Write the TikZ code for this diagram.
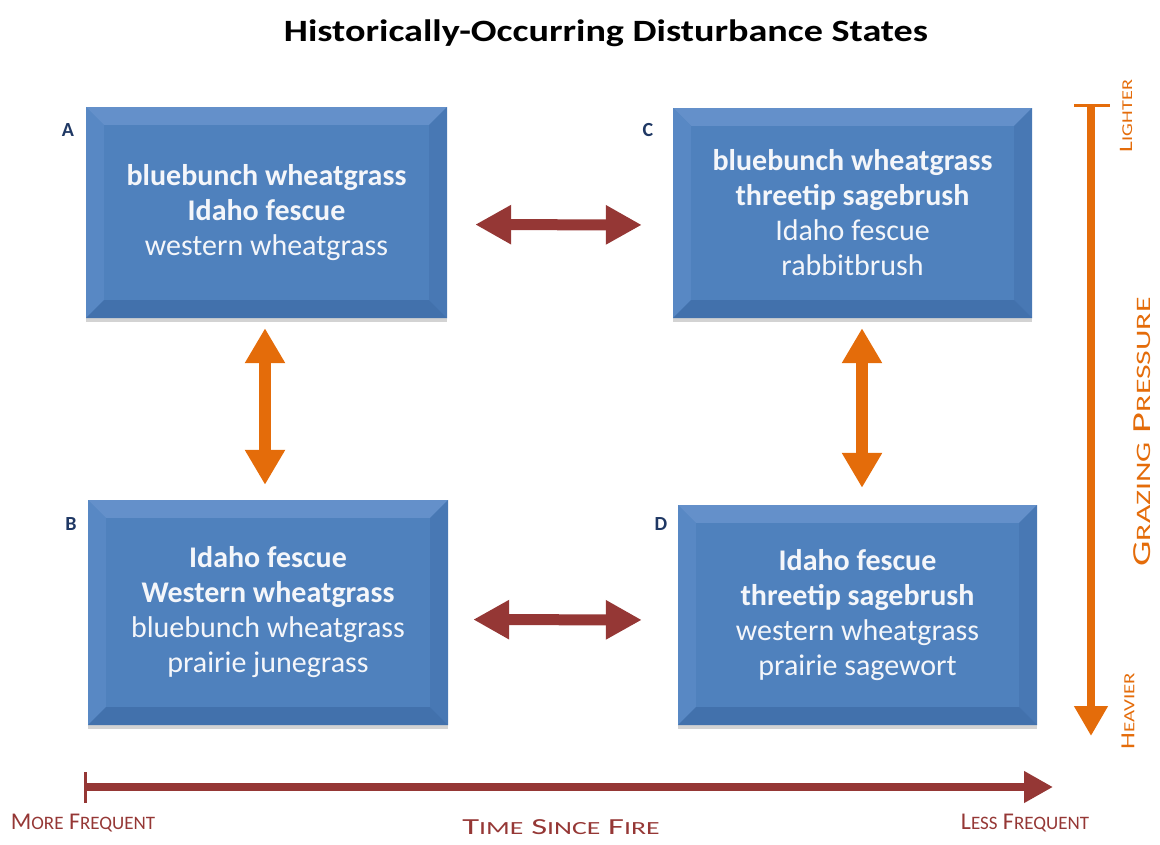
\documentclass[tikz,border=0pt]{standalone}
\usepackage{fontspec}
\setmainfont{Carlito}
\usetikzlibrary{arrows.meta,shadows,calc}

\definecolor{boxface}{HTML}{4F81BD}
\definecolor{boxtop}{HTML}{6490CA}
\definecolor{boxleft}{HTML}{5888C4}
\definecolor{boxright}{HTML}{4878B4}
\definecolor{boxbottom}{HTML}{4271AC}
\definecolor{boxtext}{HTML}{F4F6FA}
\definecolor{tagcol}{HTML}{1F3864}
\definecolor{firered}{HTML}{953735}
\definecolor{graze}{HTML}{E46C0A}

% fake small caps: first letter large, rest at \scsmall
\newcommand{\scword}[2]{#1{\fontsize{\scsmall}{\scsmall}\selectfont #2}}

\tikzset{
  statebox/.style={
    rectangle, fill=boxface, inner sep=0pt, align=center,
    text=boxtext, font={\fontsize{30}{35}\selectfont},
    drop shadow={opacity=0.35, shadow xshift=0pt, shadow yshift=-4pt},
    path picture={
      \def\bv{18pt}
      \fill[boxtop] (path picture bounding box.north west) -- (path picture bounding box.north east)
        -- ([shift={(-\bv,-\bv)}]path picture bounding box.north east)
        -- ([shift={(\bv,-\bv)}]path picture bounding box.north west) -- cycle;
      \fill[boxleft] (path picture bounding box.north west) -- (path picture bounding box.south west)
        -- ([shift={(\bv,\bv)}]path picture bounding box.south west)
        -- ([shift={(\bv,-\bv)}]path picture bounding box.north west) -- cycle;
      \fill[boxright] (path picture bounding box.north east) -- (path picture bounding box.south east)
        -- ([shift={(-\bv,\bv)}]path picture bounding box.south east)
        -- ([shift={(-\bv,-\bv)}]path picture bounding box.north east) -- cycle;
      \fill[boxbottom] (path picture bounding box.south west) -- (path picture bounding box.south east)
        -- ([shift={(-\bv,\bv)}]path picture bounding box.south east)
        -- ([shift={(\bv,\bv)}]path picture bounding box.south west) -- cycle;
      \fill[boxface] ([shift={(\bv,\bv)}]path picture bounding box.south west)
        rectangle ([shift={(-\bv,-\bv)}]path picture bounding box.north east);
    }},
  tag/.style={text=tagcol, font={\fontsize{20}{20}\selectfont\bfseries}, inner sep=0pt},
  hlink/.style={draw=firered, line width=11pt,
    {Triangle[width=37pt,length=36pt]}-{Triangle[width=37pt,length=36pt]}},
  vlink/.style={draw=graze, line width=12pt,
    {Triangle[width=38pt,length=35pt]}-{Triangle[width=38pt,length=35pt]}},
  redlabel/.style={text=firered, inner sep=0pt},
  orangelabel/.style={text=graze, inner sep=0pt, rotate=90}
}

\begin{document}
\begin{tikzpicture}[x=1pt,y=-1pt]
\useasboundingbox (0,0) rectangle (1160,844);

% title
\node[font={\fontsize{31}{31}\selectfont\bfseries}] (title) at (606,33)
  {\scalebox{1.23}[1]{Historically-Occurring Disturbance States}};

% state boxes
\node[statebox, minimum width=361pt, minimum height=211pt] (A) at (266.5,212.5)
  {\textbf{bluebunch wheatgrass}\\ \textbf{Idaho fescue}\\ western wheatgrass};
\node[statebox, minimum width=359pt, minimum height=210pt] (C) at (852.5,213)
  {\textbf{bluebunch wheatgrass}\\ \textbf{threetip sagebrush}\\ Idaho fescue\\ rabbitbrush};
\node[statebox, minimum width=360pt, minimum height=225pt] (B) at (268,612.5)
  {\textbf{Idaho fescue}\\ \textbf{Western wheatgrass}\\ bluebunch wheatgrass\\ prairie junegrass};
\node[statebox, minimum width=359pt, minimum height=220pt] (D) at (857.5,615)
  {\textbf{Idaho fescue}\\ \textbf{threetip sagebrush}\\ western wheatgrass\\ prairie sagewort};

% state letters
\node[tag] (tA) at (68,130) {A};
\node[tag] (tC) at (648,130) {C};
\node[tag] (tB) at (71,524) {B};
\node[tag] (tD) at (661,524) {D};

% transitions between states
\draw[hlink, shorten <=28pt, shorten >=31pt] ([yshift=-12pt]A.east) -- ([yshift=-12pt]C.west);
\draw[hlink, shorten <=25pt, shorten >=36pt] ([yshift=-7pt]B.east) -- ([yshift=-5pt]D.west);
\draw[vlink, shorten <=10pt, shorten >=15pt] ([xshift=-1.5pt]A.south) -- ([xshift=-3pt]B.north);
\draw[vlink, shorten <=10pt, shorten >=17pt] ([xshift=9.5pt]C.south) -- ([xshift=4.5pt]D.north);

% grazing pressure axis
\coordinate (gtop) at (1091,105);
\coordinate (gbot) at (1091,736);
\draw[graze, line width=3pt] (1074,105) -- (1110,105);
\draw[graze, line width=8pt, -{Triangle[width=32pt,length=30pt]}] (gtop) -- (gbot);
\node[orangelabel, font={\fontsize{19}{19}\selectfont}] (light) at (1126,116)
  {\def\scsmall{15}\scalebox{1.35}[1]{\scword{L}{IGHTER}}};
\node[orangelabel, font={\fontsize{26}{26}\selectfont}] (gp) at (1142,432)
  {\def\scsmall{20.5}\scalebox{1.55}[1]{\scword{G}{RAZING} \scword{P}{RESSURE}}};
\node[orangelabel, font={\fontsize{20}{20}\selectfont}] (heavy) at (1128,711)
  {\def\scsmall{15.5}\scalebox{1.35}[1]{\scword{H}{EAVIER}}};

% fire frequency axis
\coordinate (fleft) at (85,787);
\coordinate (fright) at (1053,787);
\draw[firered, line width=3pt] (85,772) -- (85,803);
\draw[firered, line width=8pt, -{Triangle[width=30pt,length=29pt]}] (fleft) -- (fright);
\node[redlabel, font={\fontsize{24}{24}\selectfont}] (more) at (83,823)
  {\def\scsmall{19}\scword{M}{ORE} \scword{F}{REQUENT}};
\node[redlabel, font={\fontsize{23}{23}\selectfont}] (tsf) at (561,827)
  {\def\scsmall{18.5}\scalebox{1.5}[1]{\scword{T}{IME} \scword{S}{INCE} \scword{F}{IRE}}};
\node[redlabel, font={\fontsize{24}{24}\selectfont}] (less) at (1025,823)
  {\def\scsmall{19}\scword{L}{ESS} \scword{F}{REQUENT}};
\end{tikzpicture}
\end{document}
